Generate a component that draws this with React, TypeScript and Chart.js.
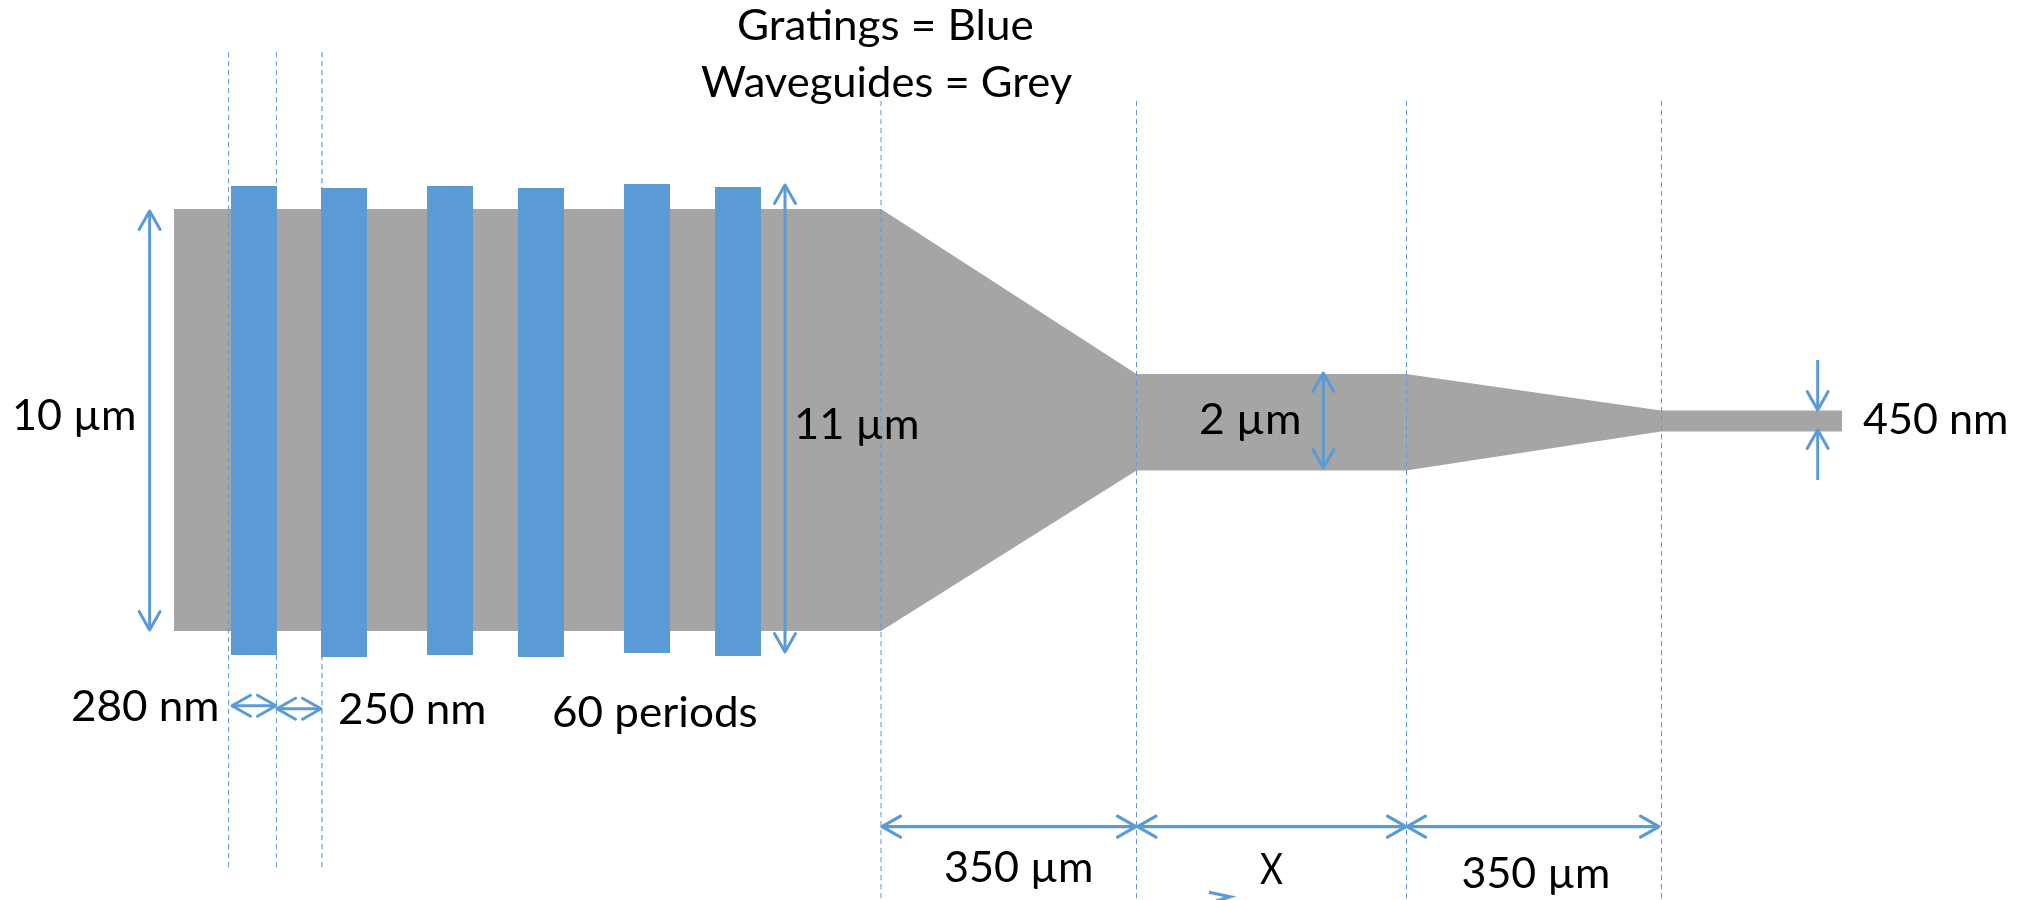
import React, { useEffect, useRef } from "react";
import { Chart, registerables } from "chart.js";

Chart.register(...registerables);

const GREY = "#A5A5A5";
const BLUE = "#5B9BD5";
const WIDTH = 2037;
const HEIGHT = 900;

// Waveguide outline
const waveguideX = [174, 881, 1136.5, 1406, 1661, 1842];
const waveguideTop = [209, 209, 374, 374, 410.5, 410.5];
const waveguideBottom = [631, 631, 470.5, 470.5, 431.5, 431.5];

// Gratings
const gratingLeft = [231, 321, 427, 518, 624, 715];
const gratingRight = [277, 367, 473, 564, 670, 761];
const gratingTop = [186, 188, 186, 188, 184, 187];
const gratingBottom = [655, 657, 655, 657, 653, 656];

// Dashed guides: x, first y, last y
const guideX = [228.6, 276.4, 322, 881, 1136.5, 1406.5, 1661.5];
const guideStart = [52, 52, 52, 101, 101, 101, 101];
const guideEnd = [869, 869, 869, 900, 900, 900, 900];
const guideWidth = [1, 1, 2, 1, 1, 1, 1];
const guideColor = [BLUE, BLUE, "rgba(91,155,213,0.6)", BLUE, BLUE, BLUE, BLUE];

// Vertical arrows: x, y from, y to, and which ends have heads
const vArrowX = [149.6, 785, 1323.3, 1817.7, 1817.7];
const vArrowFrom = [211, 185, 373, 360, 480];
const vArrowTo = [630, 652, 468, 410, 430];
const vArrowHeadFrom = [true, true, true, false, false];

// Horizontal double arrows: y, x from, x to
const hArrowY = [705.7, 708.7, 826.7, 826.7, 826.7];
const hArrowFrom = [232, 277, 882, 1137.5, 1407];
const hArrowTo = [276, 321, 1136, 1406, 1659];
const hArrowWidth = [3, 3, 3.2, 3.2, 3.2];

// Stray arrow head fragment at the bottom edge
const strayX = [1209, 1230, 1216];
const strayY = [892.3, 896.7, 901];

// Labels: text, left, right, baseline
const labelText = [
  "Gratings = Blue",
  "Waveguides = Grey",
  "10 µm",
  "11 µm",
  "2 µm",
  "450 nm",
  "280 nm",
  "250 nm",
  "60 periods",
  "350 µm",
  "X",
  "350 µm",
];
const labelLeft = [739, 701, 15, 797, 1201, 1863, 73, 340, 554, 945, 1260, 1462.5];
const labelRight = [1033, 1072, 134, 917, 1299, 2006, 217, 484, 756, 1091, 1283, 1608];
const labelBase = [40, 97, 429.5, 438.5, 434, 434, 721, 724, 727, 882, 884, 888];

const HEAD_SPREAD = 10.5;
const HEAD_DEPTH = 18.5;

function line(
  data: { x: number; y: number }[],
  color: string,
  width: number,
  order: number,
  extra: Record<string, unknown> = {}
) {
  return {
    type: "line" as const,
    data,
    borderColor: color,
    backgroundColor: color,
    borderWidth: width,
    pointRadius: 0,
    tension: 0,
    fill: false,
    order,
    ...extra,
  };
}

function buildDatasets() {
  const sets: any[] = [];
  // Filled pair: the upper edge fills down to the lower edge
  const pair = (xs: number[], top: number[], bottom: number[], color: string, order: number) => {
    sets.push(line(xs.map((x, i) => ({ x, y: top[i] })), color, 0, order, { fill: "+1" }));
    sets.push(line(xs.map((x, i) => ({ x, y: bottom[i] })), color, 0, order));
  };
  pair(waveguideX, waveguideTop, waveguideBottom, GREY, 10);
  guideX.forEach((x, i) => {
    sets.push(
      line(
        [
          { x, y: guideStart[i] },
          { x, y: guideEnd[i] },
        ],
        guideColor[i],
        guideWidth[i],
        9,
        { borderDash: [5.3, 3.7] }
      )
    );
  });
  gratingLeft.forEach((l, i) => {
    pair([l, gratingRight[i]], [gratingTop[i], gratingTop[i]], [gratingBottom[i], gratingBottom[i]], BLUE, 8);
  });

  const head = (tipX: number, tipY: number, dx: number, dy: number, w: number) => {
    // (dx, dy) is the unit direction from the tip back along the shaft
    const wings = [
      { x: tipX + dx * HEAD_DEPTH - dy * HEAD_SPREAD, y: tipY + dy * HEAD_DEPTH - dx * HEAD_SPREAD },
      { x: tipX, y: tipY },
      { x: tipX + dx * HEAD_DEPTH + dy * HEAD_SPREAD, y: tipY + dy * HEAD_DEPTH + dx * HEAD_SPREAD },
    ];
    sets.push(line(wings, BLUE, w, 1, { borderCapStyle: "round", borderJoinStyle: "round" }));
  };

  vArrowX.forEach((x, i) => {
    const from = vArrowFrom[i];
    const to = vArrowTo[i];
    const dir = to > from ? 1 : -1;
    sets.push(line([{ x, y: from }, { x, y: to }], BLUE, 3, 1));
    head(x, to, 0, -dir, 3);
    if (vArrowHeadFrom[i]) head(x, from, 0, dir, 3);
  });
  hArrowY.forEach((y, i) => {
    sets.push(line([{ x: hArrowFrom[i], y }, { x: hArrowTo[i], y }], BLUE, hArrowWidth[i], 1));
    head(hArrowFrom[i], y, 1, 0, hArrowWidth[i]);
    head(hArrowTo[i], y, -1, 0, hArrowWidth[i]);
  });
  sets.push(line(strayX.map((x, i) => ({ x, y: strayY[i] })), BLUE, 3.2, 1));
  return sets;
}

const labelPlugin = {
  id: "diagramLabels",
  afterDatasetsDraw(chart: any) {
    const { ctx, scales } = chart;
    ctx.save();
    ctx.font = '43px Lato, "Open Sans", sans-serif';
    ctx.fillStyle = "#000000";
    ctx.textAlign = "left";
    ctx.textBaseline = "alphabetic";
    labelText.forEach((t, i) => {
      const left = scales.x.getPixelForValue(labelLeft[i]);
      const right = scales.x.getPixelForValue(labelRight[i]);
      const y = scales.y.getPixelForValue(labelBase[i]);
      // Fit each label to its measured width in the reference
      const m = ctx.measureText(t);
      const inkLeft = -m.actualBoundingBoxLeft;
      const inkWidth = m.actualBoundingBoxRight + m.actualBoundingBoxLeft;
      const sx = (right - left) / inkWidth;
      ctx.save();
      ctx.translate(left, y);
      ctx.scale(sx, 1);
      ctx.fillText(t, -inkLeft, 0);
      ctx.restore();
    });
    ctx.restore();
  },
};

export default function App() {
  const ref = useRef<HTMLCanvasElement>(null);
  useEffect(() => {
    if (!ref.current) return;
    const chart = new Chart(ref.current, {
      type: "line",
      data: { datasets: buildDatasets() },
      options: {
        animation: false,
        responsive: false,
        devicePixelRatio: 1,
        parsing: false,
        normalized: false,
        layout: { padding: 0 },
        plugins: { legend: { display: false }, tooltip: { enabled: false } },
        scales: {
          x: { type: "linear", min: 0, max: WIDTH, display: false },
          y: { type: "linear", min: 0, max: HEIGHT, reverse: true, display: false },
        },
      } as any,
      plugins: [labelPlugin],
    } as any);
    return () => chart.destroy();
  }, []);
  return (
    <div style={{ position: "absolute", left: 0, top: 0, width: WIDTH, height: HEIGHT, background: "#fff" }}>
      <canvas ref={ref} width={WIDTH} height={HEIGHT} style={{ display: "block" }} />
    </div>
  );
}
